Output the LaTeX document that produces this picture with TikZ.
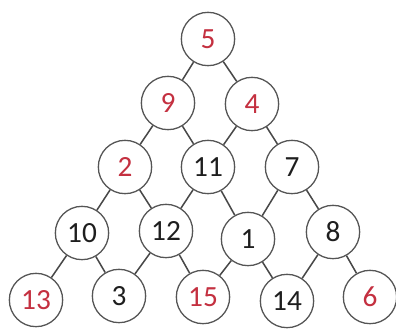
\documentclass[tikz,border=0pt]{standalone}
\usepackage{xcolor}
\usepackage{fontspec}
\setmainfont{Carlito}
\definecolor{numRed}{RGB}{196,48,64}
\definecolor{numInk}{RGB}{30,30,30}
\definecolor{ringGray}{RGB}{85,85,85}
\usepackage{tikz}
\usetikzlibrary{positioning}
\tikzset{
  ball/.style={circle, draw=ringGray, line width=1.1pt, fill=white,
    minimum size=1.6cm, inner sep=0pt, font=\fontsize{25}{28}\selectfont, text=numInk},
  redball/.style={ball, text=numRed},
  link/.style={draw=ringGray!85!black, line width=1.3pt}
}
\begin{document}
\begin{tikzpicture}[x=0.03cm, y=-0.03cm]
      \useasboundingbox (0,0) rectangle (396,334);
      % top rows
      \node[redball] (n5)  at (208,39)  {5};
      \node[redball] (n9)  at (168,103) {9};
      \node[redball] (n4)  at (252,104) {4};
      \node[redball] (n2)  at (125,167) {2};
      \node[ball]    (n11) at (208,167) {11};
      \node[ball]    (n7)  at (292,167) {7};
      % lower rows
      \node[ball]    (n10) at (82,233)  {10};
      \node[ball]    (n12) at (166,231) {12};
      \node[ball]    (n1)  at (248,239) {1};
      \node[ball]    (n8)  at (333,232) {8};
      \node[redball] (n13) at (36,300)  {13};
      \node[ball]    (n3)  at (119,296) {3};
      \node[redball] (n15) at (203,297) {15};
      \node[ball]    (n14) at (287,301) {14};
      \node[redball] (n6)  at (370,297) {6};
      % links
      \foreach \a/\b in {n5/n9, n5/n4, n9/n2, n9/n11, n4/n11, n4/n7,
                         n2/n10, n2/n12, n11/n12, n11/n1, n7/n1, n7/n8,
                         n10/n13, n10/n3, n12/n3, n12/n15, n1/n15, n1/n14,
                         n8/n14, n8/n6}
        \draw[link] (\a) -- (\b);
    \end{tikzpicture}
\end{document}
